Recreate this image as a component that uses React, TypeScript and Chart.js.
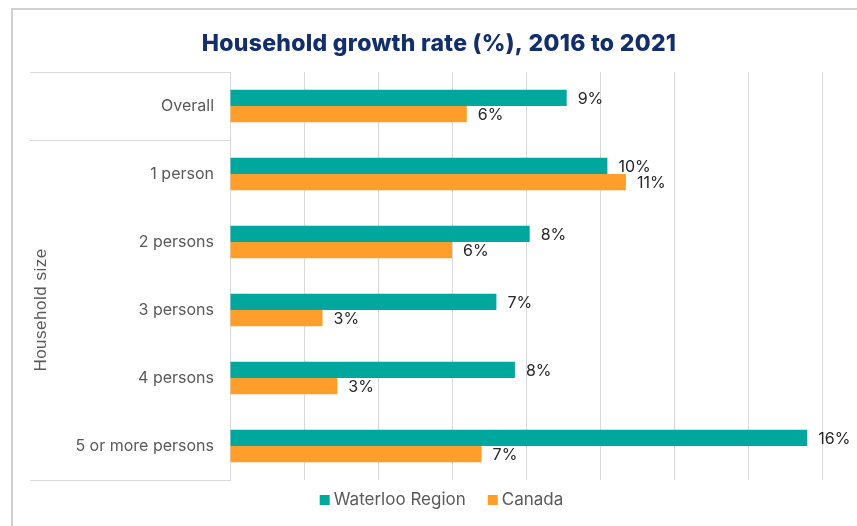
import React, { useEffect, useRef } from "react";
import { Chart, registerables } from "chart.js";

Chart.register(...registerables);

const categories = ["Overall", "1 person", "2 persons", "3 persons", "4 persons", "5 or more persons"];
const waterlooValues = [9.1, 10.2, 8.1, 7.2, 7.7, 15.6];
const canadaValues = [6.4, 10.7, 6.0, 2.5, 2.9, 6.8];
const seriesNames = ["Waterloo Region", "Canada"];
const groupTitle = "Household size";
const chartTitle = "Household growth rate (%), 2016 to 2021";

const TEAL = "#00A79D";
const ORANGE = "#FF9E2B";
const GRID = "#d9d9d9";
const LABEL = "#595959";
const FONT = "Inter";

const decorPlugin = {
  id: "decor",
  beforeDraw(chart: any) {
    const ctx = chart.ctx;
    ctx.save();
    ctx.strokeStyle = "#d0d0d0";
    ctx.lineWidth = 2;
    ctx.beginPath();
    ctx.moveTo(12, chart.height + 5);
    ctx.lineTo(12, 9);
    ctx.lineTo(chart.width + 5, 9);
    ctx.stroke();
    ctx.restore();
  },
  afterDraw(chart: any) {
    const ctx = chart.ctx;
    const area = chart.chartArea;
    const y = chart.scales.y;
    ctx.save();
    // title
    ctx.font = `800 23px ${FONT}`;
    ctx.fillStyle = "#132F6B";
    ctx.textAlign = "center";
    ctx.textBaseline = "alphabetic";
    try { (ctx as any).letterSpacing = "0.3px"; } catch (e) {}
    ctx.fillText(chartTitle, 439, 51);
    try { (ctx as any).letterSpacing = "0px"; } catch (e) {}

    // group separator lines on category axis
    const p0 = y.getPixelForValue(0);
    const p1 = y.getPixelForValue(1);
    const sep = (p0 + p1) / 2;
    ctx.strokeStyle = GRID;
    ctx.lineWidth = 1;
    ctx.beginPath();
    for (const yy of [area.top, sep, area.bottom]) {
      const py = Math.round(yy) + 0.5;
      ctx.moveTo(30, py);
      ctx.lineTo(area.left, py);
    }
    ctx.stroke();

    // group title (rotated)
    const midGroup = (sep + area.bottom) / 2;
    ctx.translate(41, midGroup);
    ctx.rotate(-Math.PI / 2);
    ctx.font = `17px "Liberation Sans"`;
    ctx.fillStyle = LABEL;
    ctx.textAlign = "center";
    ctx.textBaseline = "middle";
    try { (ctx as any).letterSpacing = "0.5px"; } catch (e) {}
    ctx.fillText(groupTitle, 0, 0);
    try { (ctx as any).letterSpacing = "0px"; } catch (e) {}
    ctx.setTransform(1, 0, 0, 1, 0, 0);

    // legend
    ctx.font = `17px ${FONT}`;
    const box = 10;
    const gapBox = 4;
    const gapItem = 22;
    const colors = [TEAL, ORANGE];
    const widths = seriesNames.map((n) => ctx.measureText(n).width);
    const total = widths.reduce((a, w) => a + box + gapBox + w, 0) + gapItem;
    let x = 441.5 - total / 2;
    const ly = 500;
    ctx.textAlign = "left";
    ctx.textBaseline = "middle";
    seriesNames.forEach((n, i) => {
      ctx.fillStyle = colors[i];
      ctx.fillRect(x, ly - box / 2, box, box);
      x += box + gapBox;
      ctx.fillStyle = LABEL;
      ctx.fillText(n, x, ly);
      x += widths[i] + gapItem;
    });
    ctx.restore();
  },
  afterDatasetsDraw(chart: any) {
    const ctx = chart.ctx;
    ctx.save();
    ctx.font = `16px ${FONT}`;
    ctx.fillStyle = "#262626";
    ctx.textAlign = "left";
    ctx.textBaseline = "middle";
    chart.data.datasets.forEach((ds: any, di: number) => {
      const meta = chart.getDatasetMeta(di);
      meta.data.forEach((el: any, i: number) => {
        const v = ds.data[i];
        ctx.fillText(`${Math.round(v)}%`, el.x + 11, el.y + 1);
      });
    });
    ctx.restore();
  },
};

export default function App() {
  const ref = useRef<HTMLCanvasElement | null>(null);
  useEffect(() => {
    if (!ref.current) return;
    const chart = new Chart(ref.current, {
      type: "bar",
      data: {
        labels: categories,
        datasets: [
          {
            label: seriesNames[0],
            data: waterlooValues,
            backgroundColor: TEAL,
            categoryPercentage: 0.48,
            barPercentage: 1,
          },
          {
            label: seriesNames[1],
            data: canadaValues,
            backgroundColor: ORANGE,
            categoryPercentage: 0.48,
            barPercentage: 1,
          },
        ],
      },
      options: {
        indexAxis: "y",
        animation: false,
        responsive: false,
        devicePixelRatio: 1,
        layout: { padding: { top: 72, bottom: 46, right: 35, left: 0 } },
        plugins: {
          legend: { display: false },
          title: { display: false },
          tooltip: { enabled: false },
        },
        scales: {
          x: {
            min: 0,
            max: 16,
            ticks: { display: false, stepSize: 2 },
            grid: { color: GRID, lineWidth: 1, drawTicks: false },
            border: { display: false },
          },
          y: {
            afterFit(scale: any) {
              scale.width = 230;
            },
            grid: { display: false, drawTicks: false },
            border: { display: true, color: GRID, width: 1 },
            ticks: {
              color: LABEL,
              font: { family: FONT, size: 16 },
              padding: 16,
            },
          },
        },
      },
      plugins: [decorPlugin],
    });
    return () => chart.destroy();
  }, []);
  return (
    <div style={{ position: "fixed", left: 0, top: 0, width: 857, height: 526, background: "#fff" }}>
      <canvas ref={ref} width={857} height={526} style={{ width: 857, height: 526 }} />
    </div>
  );
}
